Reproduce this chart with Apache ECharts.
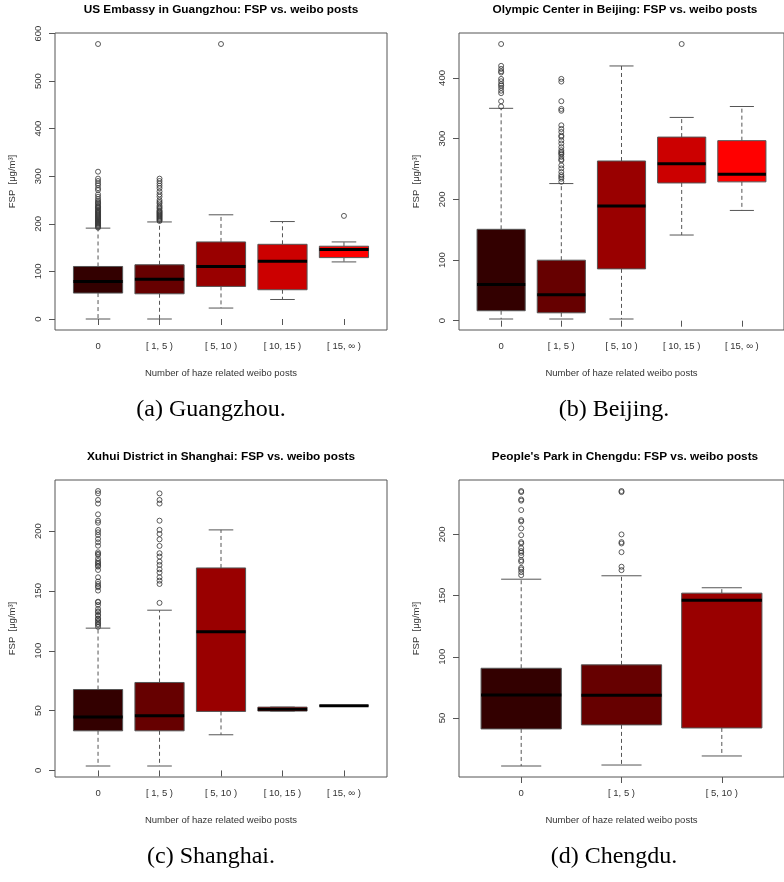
<!DOCTYPE html>
<html>
<head>
<meta charset="utf-8">
<script src="https://cdn.jsdelivr.net/npm/echarts@6/dist/echarts.min.js"></script>
<style>
  html, body { margin: 0; padding: 0; background: #fff; }
  #chart { width: 784px; height: 882px; }
</style>
</head>
<body>
<div id="chart"></div>
<script>
// ---------------- DATA ----------------
const categories5 = ['0', '[ 1, 5 )', '[ 5, 10 )', '[ 10, 15 )', '[ 15, \u221E )'];
const categories3 = ['0', '[ 1, 5 )', '[ 5, 10 )'];

// Box stats per category: [lower whisker, Q1, median, Q3, upper whisker]
const gzBoxes = [
  [0, 54.5, 79, 110.4, 191],
  [0, 53, 83.5, 114, 204],
  [23, 68.5, 110.5, 162, 219],
  [41, 61.5, 121.6, 157, 204.8],
  [120, 129, 146, 153, 162]
];
const gzOutliers = [
  [578, 309.6, 295, 290, 285, 281, 275, 271, 262, 257, 252, 248, 245, 243, 240, 237, 235, 233, 230, 228, 226, 224, 222, 220, 218, 216, 214, 212, 210, 208, 206, 204, 202, 200, 198, 196, 194, 192],
  [295, 290, 285, 280, 275, 268, 262, 257, 250, 246, 243, 238, 235, 232, 228, 226, 224, 222, 220, 218, 216, 214, 212, 210, 208, 206],
  [578],
  [],
  [216.7]
];

const bjBoxes = [
  [2.8, 16.4, 59.6, 150.6, 350],
  [2.8, 13, 42.7, 99.7, 226],
  [2.8, 85.4, 189, 263.2, 419.8],
  [141.2, 227, 258.8, 302.6, 335],
  [181.7, 228.8, 241.4, 296.7, 353]
];
const bjOutliers = [
  [456, 420, 415, 411, 409, 398.5, 394.6, 390, 387.5, 383.7, 379, 375, 361.7, 353],
  [398.5, 394, 361.7, 349, 346, 322, 316, 311, 305, 303, 297, 292, 286, 281, 278, 276, 274, 270, 266, 264, 256, 251, 245, 240, 237, 234, 229],
  [],
  [456],
  []
];

const shBoxes = [
  [3.7, 33.1, 44.6, 67.6, 118.9],
  [3.7, 33.1, 45.7, 73.5, 133.9],
  [29.8, 49.3, 115.8, 169.2, 201],
  [49.6, 49.6, 51.2, 52.9, 52.9],
  [54, 54, 54, 54, 54]
];
const shOutliers = [
  [233.5, 231.5, 226, 223, 214, 208.7, 207, 201, 199, 196.7, 193.4, 190.6, 187.8, 182.3, 181, 180, 177, 175, 173.5, 172.5, 171, 170.3, 167.5, 161.4, 157.8, 155.8, 154, 153, 150.3, 141, 140.6, 138.3, 135, 133, 132.2, 130, 129.4, 127, 126.6, 125, 123.9, 122.5, 121.6, 120],
  [231.5, 226, 223, 208.7, 201, 197.6, 193.1, 187.6, 181.5, 178.7, 174.5, 171.7, 168.1, 165.3, 161.4, 158.6, 155.8, 140],
  [], [], []
];

const cdBoxes = [
  [10.7, 41, 68.8, 90.6, 163.4],
  [11.5, 44.3, 68.5, 93.4, 166.2],
  [18.9, 41.8, 146.2, 152, 156.4]
];
const cdOutliers = [
  [235.5, 234.6, 228.6, 227.6, 219.9, 211.7, 210.6, 204.9, 199.4, 193.7, 192.6, 188.8, 186.4, 185, 182.8, 179, 177.7, 172.7, 171.4, 169.2, 166.7],
  [235.5, 234.6, 200, 193.7, 192.6, 185.5, 173.6, 170.8],
  []
];

const gzTicks = [0, 100, 200, 300, 400, 500, 600];
const bjTicks = [0, 100, 200, 300, 400];
const shTicks = [0, 50, 100, 150, 200];
const cdTicks = [50, 100, 150, 200];

const panelTitles = [
  'US Embassy in Guangzhou: FSP vs. weibo posts',
  'Olympic Center in Beijing: FSP vs. weibo posts',
  'Xuhui District in Shanghai: FSP vs. weibo posts',
  "People's Park in Chengdu: FSP vs. weibo posts"
];
const captions = ['(a) Guangzhou.', '(b) Beijing.', '(c) Shanghai.', '(d) Chengdu.'];
const yAxisName = 'FSP  [\u03BCg/m\u00B3]';
const xAxisName = 'Number of haze related weibo posts';

// ---------------- STYLE ----------------
const fills = ['#330000', '#660000', '#990000', '#CC0000', '#FF0000'];
const frameColor = '#555';
const textColor = '#333';
const sans = 'Liberation Sans, Arial, sans-serif';

// R-style padded range (4% each side)
function padRange(lo, hi) {
  const p = (hi - lo) * 0.04;
  return [lo - p, hi + p];
}
function dataExtent(boxes, outs) {
  let lo = Infinity, hi = -Infinity;
  boxes.forEach(b => { lo = Math.min(lo, b[0]); hi = Math.max(hi, b[4]); });
  outs.forEach(o => o.forEach(v => { lo = Math.min(lo, v); hi = Math.max(hi, v); }));
  return [lo, hi];
}

const panels = [
  { boxes: gzBoxes, outs: gzOutliers, cats: categories5, ticks: gzTicks, grid: { left: 55, top: 33 } },
  { boxes: bjBoxes, outs: bjOutliers, cats: categories5, ticks: bjTicks, grid: { left: 459, top: 33 } },
  { boxes: shBoxes, outs: shOutliers, cats: categories5, ticks: shTicks, grid: { left: 55, top: 480 } },
  { boxes: cdBoxes, outs: cdOutliers, cats: categories3, ticks: cdTicks, grid: { left: 459, top: 480 } }
];
const GW = 332, GH = 297;

function renderBox(params, api) {
  const x = api.value(0);
  const lo = api.value(1), q1 = api.value(2), med = api.value(3), q3 = api.value(4), hi = api.value(5);
  const ci = api.value(6);
  const halfW = api.size([0.8, 0])[0] / 2;
  const capHalf = halfW / 2;
  const cx = api.coord([x, med])[0];
  const yLo = api.coord([x, lo])[1], yQ1 = api.coord([x, q1])[1], yMed = api.coord([x, med])[1];
  const yQ3 = api.coord([x, q3])[1], yHi = api.coord([x, hi])[1];
  const lineStyle = { stroke: frameColor, lineWidth: 1 };
  return {
    type: 'group',
    children: [
      { type: 'line', shape: { x1: cx, y1: yQ3, x2: cx, y2: yHi }, style: { stroke: frameColor, lineWidth: 1, lineDash: [4, 3] } },
      { type: 'line', shape: { x1: cx, y1: yQ1, x2: cx, y2: yLo }, style: { stroke: frameColor, lineWidth: 1, lineDash: [4, 3] } },
      { type: 'line', shape: { x1: cx - capHalf, y1: yHi, x2: cx + capHalf, y2: yHi }, style: lineStyle },
      { type: 'line', shape: { x1: cx - capHalf, y1: yLo, x2: cx + capHalf, y2: yLo }, style: lineStyle },
      { type: 'rect', shape: { x: cx - halfW, y: yQ3, width: halfW * 2, height: yQ1 - yQ3 }, style: { fill: fills[ci], stroke: frameColor, lineWidth: 1 } },
      { type: 'line', shape: { x1: cx - halfW, y1: yMed, x2: cx + halfW, y2: yMed }, style: { stroke: '#000', lineWidth: 3 } }
    ]
  };
}

const grids = [], xAxes = [], yAxes = [], series = [], graphics = [];
panels.forEach((p, i) => {
  const n = p.cats.length;
  const xr = padRange(0.5, n + 0.5);
  const ext = dataExtent(p.boxes, p.outs);
  const yr = padRange(ext[0], ext[1]);
  grids.push({ left: p.grid.left, top: p.grid.top, width: GW, height: GH, show: true, borderColor: frameColor, borderWidth: 1, backgroundColor: 'transparent', containLabel: false });
  const catVals = p.cats.map((c, k) => k + 1);
  xAxes.push({
    type: 'value', gridIndex: i, min: xr[0], max: xr[1],
    axisLine: { show: false },
    splitLine: { show: false },
    axisTick: { show: true, length: 6, customValues: catVals, lineStyle: { color: frameColor } },
    axisLabel: { customValues: catVals, margin: 11, fontSize: 9.5, fontFamily: sans, color: textColor,
      formatter: v => p.cats[Math.round(v) - 1] },
    name: xAxisName, nameLocation: 'middle', nameGap: 38,
    nameTextStyle: { fontSize: 9.5, fontFamily: sans, color: textColor }
  });
  yAxes.push({
    type: 'value', gridIndex: i, min: yr[0], max: yr[1],
    axisLine: { show: false },
    splitLine: { show: false },
    axisTick: { show: true, length: 6, customValues: p.ticks, lineStyle: { color: frameColor } },
    axisLabel: { customValues: p.ticks, rotate: 90, margin: 12, fontSize: 9.5, fontFamily: sans, color: textColor },
    name: yAxisName, nameLocation: 'middle', nameRotate: 90, nameGap: 38,
    nameTextStyle: { fontSize: 9.5, fontFamily: sans, color: textColor }
  });
  series.push({
    type: 'custom', xAxisIndex: i, yAxisIndex: i,
    renderItem: renderBox,
    data: p.boxes.map((b, k) => [k + 1, b[0], b[1], b[2], b[3], b[4], k]),
    z: 2, silent: true
  });
  const pts = [];
  p.outs.forEach((arr, k) => arr.forEach(v => pts.push([k + 1, v])));
  series.push({
    type: 'scatter', xAxisIndex: i, yAxisIndex: i,
    data: pts, symbol: 'circle', symbolSize: 5,
    itemStyle: { color: 'rgba(0,0,0,0)', borderColor: '#333', borderWidth: 0.8, opacity: 1 },
    z: 3, silent: true
  });
  const cx = p.grid.left + GW / 2;
  graphics.push({
    type: 'text', x: cx, y: p.grid.top - 23,
    style: { text: panelTitles[i], font: 'bold 11.8px ' + sans, fill: '#000', textAlign: 'center', textVerticalAlign: 'middle' }
  });
  graphics.push({
    type: 'text', x: (i % 2 === 0) ? 211 : 614, y: p.grid.top + 377,
    style: { text: captions[i], font: '24px "Liberation Serif", "DejaVu Serif", serif', fill: '#000', textAlign: 'center', textVerticalAlign: 'middle' }
  });
});

const chart = echarts.init(document.getElementById('chart'), null, { renderer: 'canvas' });
chart.setOption({
  animation: false,
  backgroundColor: '#fff',
  grid: grids, xAxis: xAxes, yAxis: yAxes, series: series,
  graphic: graphics
});
</script>
</body>
</html>
